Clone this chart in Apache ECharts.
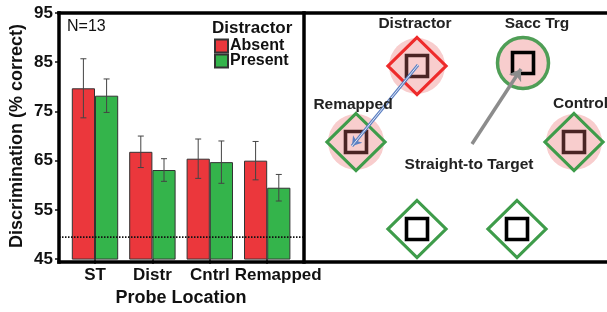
<!DOCTYPE html>
<html>
<head>
<meta charset="utf-8">
<script src="https://cdn.jsdelivr.net/npm/echarts@6/dist/echarts.min.js"></script>
<style>html,body{margin:0;padding:0;background:#fff;}#c{width:607px;height:312px;}</style>
</head>
<body>
<div id="c"></div>
<script>
// ---- data ----
var categories = ['ST', 'Distr', 'Cntrl', 'Remapped'];
var absentVals = [79.7, 66.8, 65.4, 65.0];
var absentErr = [6.0, 3.2, 4.0, 3.9];
var presentVals = [78.2, 63.1, 64.7, 59.5];
var presentErr = [3.4, 2.3, 4.3, 2.7];
var chanceLevel = 50;
var yTicks = [45, 55, 65, 75, 85, 95];

// ---- diagram (schematic in panel units) ----
var pinkDiscs = [[113, 53], [52, 129], [270, 129]];
var targetDisc = [[219, 50]];
var redDiamonds = [[113, 53]];
var greenDiamonds = [[52, 129], [270, 129], [113, 216], [213, 216]];
var brownSquares = [[113, 53], [52, 129], [270, 129]];
var blackSquares = [[219, 50], [113, 216], [213, 216]];
var saccadeArrow = [[168, 131], [217, 56]];
var remapArrow = [[114, 52], [48, 133]];
var diagramLabels = [
  {name: 'Distractor', value: [111, 11]},
  {name: 'Sacc Trg', value: [233, 11]},
  {name: 'Remapped', value: [49, 92]},
  {name: 'Control', value: [249, 91], label: {align: 'left'}},
  {name: 'Straight-to Target', value: [165, 152]}
];

var RED = '#eb373c', GREEN = '#34b44b';
var BW = 23.2;
var FONT = 'Liberation Sans, Arial, sans-serif';

function errSeries(vals, errs, side) {
  return {
    type: 'custom', xAxisIndex: 0, yAxisIndex: 0, z: 5,
    data: vals.map(function (v, i) { return [i, v, errs[i]]; }),
    renderItem: function (params, api) {
      var i = api.value(0), v = api.value(1), e = api.value(2);
      var c = api.coord([i, v]);
      var x = c[0] + side * BW / 2;
      var top = api.coord([i, v + e])[1];
      var bot = api.coord([i, v - e])[1];
      var st = {stroke: '#444', lineWidth: 1};
      return {type: 'group', children: [
        {type: 'line', shape: {x1: x, y1: top, x2: x, y2: bot}, style: st},
        {type: 'line', shape: {x1: x - 3, y1: top, x2: x + 3, y2: top}, style: st},
        {type: 'line', shape: {x1: x - 3, y1: bot, x2: x + 3, y2: bot}, style: st}
      ]};
    }
  };
}

function scat(data, symbol, size, style, z) {
  style.opacity = 1;
  return {type: 'scatter', xAxisIndex: 2, yAxisIndex: 2, data: data, symbol: symbol,
    symbolSize: size, itemStyle: style, z: z, silent: true, emphasis: {disabled: true}};
}

var catData = categories.map(function (c, i) {
  return i === categories.length - 1 ? {value: c, textStyle: {padding: [0, 0, 0, 22]}} : c;
});

var chart = echarts.init(document.getElementById('c'));
chart.setOption({
  animation: false,
  textStyle: {fontFamily: FONT},
  grid: [
    {left: 66.3, top: 13, width: 229.6, height: 249},
    {left: 59, top: 13, width: 245, height: 249},
    {left: 304, top: 13, width: 303, height: 249}
  ],
  xAxis: [
    {type: 'category', gridIndex: 0, data: catData,
      axisLine: {show: false},
      axisTick: {show: true, alignWithLabel: true, length: 5, lineStyle: {color: '#111', width: 1.5}},
      axisLabel: {color: '#111', fontWeight: 'bold', fontSize: 17, margin: 8, fontFamily: FONT, interval: 0, hideOverlap: false},
      name: 'Probe Location', nameLocation: 'middle', nameGap: 29,
      nameTextStyle: {color: '#111', fontWeight: 'bold', fontSize: 18, fontFamily: FONT}},
    {type: 'value', gridIndex: 1, min: 0, max: 1, show: false},
    {type: 'value', gridIndex: 2, min: 0, max: 303, show: false}
  ],
  yAxis: [
    {type: 'value', gridIndex: 0, min: yTicks[0], max: yTicks[yTicks.length - 1], interval: 10, offset: 7.3,
      axisLine: {show: false}, splitLine: {show: false},
      axisTick: {show: true, length: 4, lineStyle: {color: '#111', width: 1.5}},
      axisLabel: {color: '#111', fontWeight: 'bold', fontSize: 17, margin: 6, fontFamily: FONT},
      name: 'Discrimination (% correct)', nameLocation: 'middle', nameRotate: 90, nameGap: 33,
      nameTextStyle: {color: '#111', fontWeight: 'bold', fontSize: 18, fontFamily: FONT}},
    {type: 'value', gridIndex: 1, min: yTicks[0], max: yTicks[yTicks.length - 1], show: false},
    {type: 'value', gridIndex: 2, min: 0, max: 249, inverse: true, show: false}
  ],
  legend: {
    data: ['Absent', 'Present'], orient: 'vertical', left: 209, top: 33,
    itemWidth: 13, itemHeight: 13, itemGap: -1, icon: 'rect',
    textStyle: {color: '#111', fontWeight: 'bold', fontSize: 16, fontFamily: FONT, padding: [0, 0, 0, -3]}
  },
  series: [
    {name: 'Absent', type: 'bar', xAxisIndex: 0, yAxisIndex: 0, data: absentVals, barWidth: BW, barGap: '0%',
      itemStyle: {color: RED, borderColor: '#333', borderWidth: 1}},
    {name: 'Present', type: 'bar', xAxisIndex: 0, yAxisIndex: 0, data: presentVals, barWidth: BW, barGap: '0%',
      itemStyle: {color: GREEN, borderColor: '#333', borderWidth: 1}},
    errSeries(absentVals, absentErr, -1),
    errSeries(presentVals, presentErr, 1),
    {type: 'line', xAxisIndex: 1, yAxisIndex: 1, data: [[0, chanceLevel], [1, chanceLevel]], symbol: 'none',
      lineStyle: {color: '#111', width: 1.6, type: [1.5, 1.5]}, z: 6, silent: true},
    scat(pinkDiscs, 'circle', 56, {color: '#f8cdcd'}, 2),
    scat(targetDisc, 'circle', 51, {color: '#f8cdcd', borderColor: '#4f9e56', borderWidth: 3.5}, 2),
    scat(redDiamonds, 'diamond', [58, 57], {color: 'rgba(0,0,0,0)', borderColor: '#ee2b2b', borderWidth: 3.2}, 3),
    scat(greenDiamonds, 'diamond', [58, 57], {color: 'rgba(0,0,0,0)', borderColor: '#3e9c4a', borderWidth: 3.2}, 3),
    scat(brownSquares, 'rect', 21, {color: 'rgba(0,0,0,0)', borderColor: '#4a2424', borderWidth: 3.6}, 4),
    scat(blackSquares, 'rect', 21, {color: 'rgba(0,0,0,0)', borderColor: '#000', borderWidth: 3.6}, 4),
    {type: 'lines', coordinateSystem: 'cartesian2d', xAxisIndex: 2, yAxisIndex: 2, z: 6, silent: true,
      data: [{coords: saccadeArrow}], symbol: ['none', 'arrow'], symbolSize: 11,
      lineStyle: {color: '#8c8c8c', width: 3.5, opacity: 1}},
    {type: 'lines', coordinateSystem: 'cartesian2d', xAxisIndex: 2, yAxisIndex: 2, z: 6, silent: true,
      data: [{coords: remapArrow}], symbol: ['none', 'arrow'], symbolSize: 9,
      lineStyle: {color: '#5d80c2', width: 3, opacity: 1}},
    {type: 'lines', coordinateSystem: 'cartesian2d', xAxisIndex: 2, yAxisIndex: 2, z: 7, silent: true,
      data: [{coords: remapArrow}], symbol: ['none', 'none'],
      lineStyle: {color: '#e2eaf8', width: 1, opacity: 1}},
    {type: 'scatter', xAxisIndex: 2, yAxisIndex: 2, data: diagramLabels, symbolSize: 1, z: 8, silent: true,
      itemStyle: {color: 'rgba(0,0,0,0)', opacity: 1},
      label: {show: true, position: 'inside', formatter: '{b}', color: '#222', fontWeight: 'bold', fontSize: 15.5, fontFamily: FONT, opacity: 1}}
  ],
  graphic: [
    {type: 'line', shape: {x1: 59, y1: 13, x2: 607, y2: 13}, style: {stroke: '#000', lineWidth: 3.5, lineCap: 'square'}, z: 10},
    {type: 'line', shape: {x1: 59, y1: 262, x2: 607, y2: 262}, style: {stroke: '#000', lineWidth: 3.5, lineCap: 'square'}, z: 10},
    {type: 'line', shape: {x1: 59, y1: 13, x2: 59, y2: 262}, style: {stroke: '#000', lineWidth: 3.5, lineCap: 'square'}, z: 10},
    {type: 'line', shape: {x1: 304, y1: 13, x2: 304, y2: 262}, style: {stroke: '#000', lineWidth: 3.5, lineCap: 'square'}, z: 10},
    {type: 'text', left: 67, top: 19, style: {text: 'N=13', font: '16px ' + FONT, fill: '#111'}, z: 10},
    {type: 'text', left: 212, top: 20, style: {text: 'Distractor', font: 'bold 17px ' + FONT, fill: '#111'}, z: 10}
  ]
});
</script>
</body>
</html>
